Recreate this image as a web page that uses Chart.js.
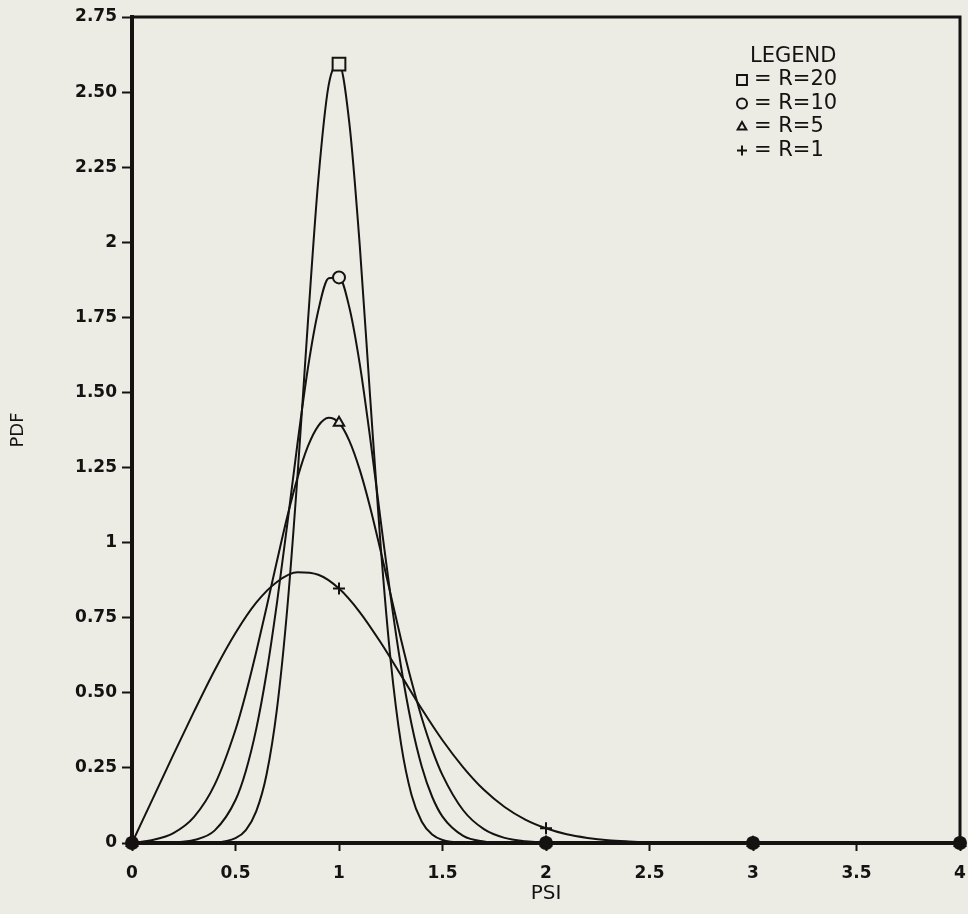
<!DOCTYPE html>
<html>
<head>
<meta charset="utf-8">
<script src="https://cdn.jsdelivr.net/npm/chart.js@4.4.1/dist/chart.umd.min.js"></script>
<style>
  html, body { margin: 0; padding: 0; background: #ecebe4; }
  canvas { display: block; }
</style>
</head>
<body>
<canvas id="pdf-chart" width="968" height="914"></canvas>
<script>
// PSI grids the curves were read at
const psiFine = [0, 0.1, 0.2, 0.3, 0.4, 0.5, 0.55, 0.6, 0.65, 0.7, 0.75, 0.8, 0.85, 0.9, 0.95,
  1, 1.05, 1.1, 1.15, 1.2, 1.25, 1.3, 1.35, 1.4, 1.45, 1.5, 1.6, 1.7, 1.8, 1.9, 2, 2.5, 3, 3.5, 4];
const psiCoarse = [0, 0.1, 0.2, 0.3, 0.4, 0.5, 0.6, 0.7, 0.8, 0.9, 1, 1.1, 1.2, 1.3, 1.4, 1.5,
  1.6, 1.7, 1.8, 1.9, 2, 2.1, 2.2, 2.3, 2.4, 2.5, 2.6, 2.8, 3, 3.5, 4];

const pdfR20 = [0, 0, 0, 0.0001, 0.0016, 0.016, 0.043, 0.105, 0.228, 0.445, 0.78, 1.227, 1.736, 2.207, 2.523,
  2.593, 2.397, 1.992, 1.489, 1.001, 0.605, 0.329, 0.161, 0.071, 0.028, 0.01, 0.001, 0, 0, 0, 0, 0, 0, 0, 0];
const pdfR10 = [0, 0.0002, 0.0017, 0.0098, 0.042, 0.143, 0.24, 0.379, 0.566, 0.798, 1.061, 1.333, 1.582, 1.773, 1.88,
  1.883, 1.783, 1.596, 1.351, 1.081, 0.818, 0.586, 0.397, 0.254, 0.154, 0.088, 0.024, 0.005, 0.001, 0, 0, 0, 0, 0, 0];
const pdfR5 = [0, 0.01, 0.033, 0.087, 0.195, 0.377, 0.498, 0.636, 0.785, 0.938, 1.086, 1.217, 1.321, 1.389, 1.416,
  1.399, 1.339, 1.243, 1.119, 0.976, 0.826, 0.677, 0.539, 0.416, 0.311, 0.226, 0.109, 0.046, 0.017, 0.006, 0.002, 0, 0, 0, 0];
const pdfR1 = [0, 0.147, 0.294, 0.438, 0.576, 0.699, 0.8, 0.869, 0.901, 0.893, 0.847, 0.769, 0.669, 0.558, 0.446, 0.342,
  0.252, 0.177, 0.12, 0.078, 0.049, 0.029, 0.017, 0.009, 0.005, 0.0025, 0.0012, 0.0002, 0, 0, 0];

const seriesNames = ["R=20", "R=10", "R=5", "R=1"];
const seriesMarks = ["rect", "circle", "triangle", "cross"];
const markSizes = [9, 6, 6, 6];
const xTicks = [0, 0.5, 1, 1.5, 2, 2.5, 3, 3.5, 4];
const yTickLabels = ["0", "0.25", "0.50", "0.75", "1", "1.25", "1.50", "1.75", "2", "2.25", "2.50", "2.75"];

const ink = "#161212";
const paper = "#ecebe4";

function toPoints(xs, ys) {
  return xs.map((x, i) => ({ x: x, y: ys[i] }));
}

function makeDataset(i, xs, ys) {
  return {
    label: seriesNames[i],
    data: toPoints(xs, ys),
    borderColor: ink,
    backgroundColor: paper,
    borderWidth: 2,
    pointStyle: seriesMarks[i],
    // marker only on whole PSI values, like the plotter did;
    // symbols piled up on the axis print as one round solid blob
    pointRadius: (ctx) => {
      if (!Number.isInteger(ctx.raw.x)) return 0;
      return ctx.raw.y === 0 ? 6 : markSizes[i];
    },
    pointBorderWidth: 2,
    pointBorderColor: ink,
    pointBackgroundColor: (ctx) => (ctx.raw.y === 0 ? ink : paper),
    cubicInterpolationMode: "monotone",
    clip: 12,
  };
}

const framePlugin = {
  id: "frame",
  beforeDatasetsDraw(chart) {
    const { ctx, chartArea: a } = chart;
    ctx.save();
    ctx.strokeStyle = ink;
    ctx.lineWidth = 3;
    ctx.strokeRect(a.left, a.top, a.right - a.left, a.bottom - a.top);
    ctx.restore();
  },
};

const legendPlugin = {
  id: "plotLegend",
  afterDraw(chart) {
    const ctx = chart.ctx;
    ctx.save();
    ctx.fillStyle = ink;
    ctx.textBaseline = "middle";
    ctx.font = "21px 'DejaVu Sans'";
    ctx.textAlign = "left";
    ctx.fillText("LEGEND", 750, 57);
    seriesNames.forEach((name, i) => {
      const y = 80 + i * 23.5;
      ctx.strokeStyle = ink;
      ctx.fillStyle = paper;
      ctx.lineWidth = 2;
      Chart.helpers.drawPoint(ctx, { pointStyle: seriesMarks[i], radius: seriesMarks[i] === "rect" ? 7 : 5, borderWidth: 2, rotation: 0 }, 742, y);
      ctx.fillStyle = ink;
      ctx.fillText("= " + name, 754, y);
    });
    ctx.restore();
  },
};

new Chart(document.getElementById("pdf-chart"), {
  type: "line",
  data: {
    datasets: [
      makeDataset(0, psiFine, pdfR20),
      makeDataset(1, psiFine, pdfR10),
      makeDataset(2, psiFine, pdfR5),
      makeDataset(3, psiCoarse, pdfR1),
    ],
  },
  options: {
    responsive: false,
    animation: false,
    layout: { padding: { top: 17, right: 0, left: 0, bottom: 0 } },
    plugins: {
      legend: { display: false },
      tooltip: { enabled: false },
    },
    scales: {
      x: {
        type: "linear",
        min: 0,
        max: 4,
        afterFit(scale) {
          scale.height = 71;
          scale.paddingRight = 0;
        },
        afterBuildTicks(scale) { scale.ticks = xTicks.map((v) => ({ value: v })); },
        ticks: {
          color: ink,
          padding: 12,
          maxRotation: 0,
          font: { family: "'DejaVu Sans'", size: 17, weight: "bold" },
          callback: (v) => String(v),
        },
        grid: { drawOnChartArea: false, drawTicks: true, tickLength: 8, tickWidth: 2, tickColor: ink },
        border: { display: true, color: ink, width: 4 },
        title: {
          display: true,
          text: "PSI",
          color: ink,
          font: { family: "'DejaVu Sans'", size: 20 },
          padding: { top: 0, bottom: 8 },
        },
      },
      y: {
        type: "linear",
        min: 0,
        max: 2.75,
        afterFit(scale) { scale.width = 132; },
        afterBuildTicks(scale) { scale.ticks = yTickLabels.map((_, i) => ({ value: i * 0.25 })); },
        ticks: {
          color: ink,
          padding: 5,
          font: { family: "'DejaVu Sans'", size: 17, weight: "bold" },
          callback: (v, i) => yTickLabels[i],
        },
        grid: { drawOnChartArea: false, drawTicks: true, tickLength: 10, tickWidth: 2, tickColor: ink },
        border: { display: true, color: ink, width: 4 },
        title: {
          display: true,
          text: "PDF",
          color: ink,
          font: { family: "'DejaVu Sans'", size: 18 },
          padding: { top: 8, bottom: 0 },
        },
      },
    },
  },
  plugins: [framePlugin, legendPlugin],
});
</script>
</body>
</html>
